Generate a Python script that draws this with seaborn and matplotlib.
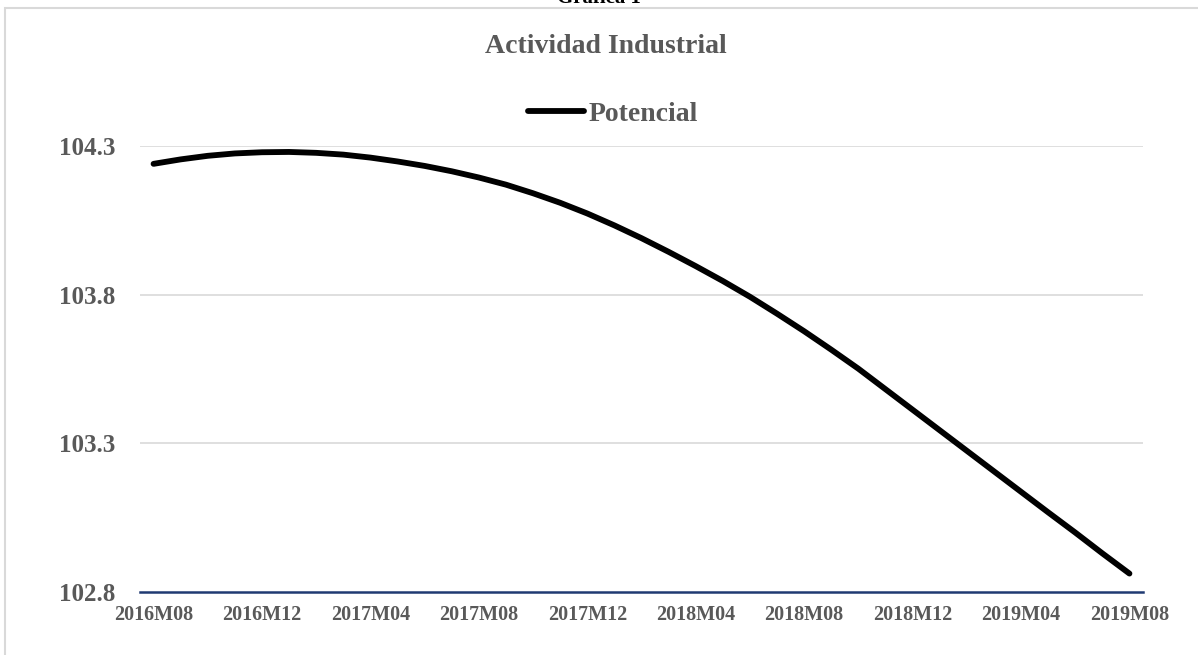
import matplotlib
matplotlib.use("Agg")
import matplotlib.pyplot as plt
import seaborn as sns
import pandas as pd
from matplotlib.patches import Rectangle

months = ["2016M08", "2016M09", "2016M10", "2016M11", "2016M12", "2017M01", "2017M02",
          "2017M03", "2017M04", "2017M05", "2017M06", "2017M07", "2017M08", "2017M09",
          "2017M10", "2017M11", "2017M12", "2018M01", "2018M02", "2018M03", "2018M04",
          "2018M05", "2018M06", "2018M07", "2018M08", "2018M09", "2018M10", "2018M11",
          "2018M12", "2019M01", "2019M02", "2019M03", "2019M04", "2019M05", "2019M06",
          "2019M07", "2019M08"]
potencial = [104.240, 104.255, 104.267, 104.275, 104.279, 104.280, 104.277, 104.271,
             104.261, 104.248, 104.233, 104.215, 104.194, 104.170, 104.141, 104.109,
             104.073, 104.033, 103.990, 103.944, 103.896, 103.846, 103.793, 103.736,
             103.677, 103.615, 103.551, 103.482, 103.413, 103.344, 103.275, 103.206,
             103.137, 103.068, 103.000, 102.930, 102.862]
y_ticks = [102.8, 103.3, 103.8, 104.3]
series_name = "Potencial"
title = "Gráfica 1"
subtitle = "Actividad Industrial"

df = pd.DataFrame({"idx": range(len(months)), "valor": potencial, "serie": series_name})

sns.set_theme(style="white")
plt.rcParams["font.family"] = ["Liberation Serif", "DejaVu Serif"]
gray = "#595959"

fig = plt.figure(figsize=(11.98, 6.55), dpi=100)
W, H = 1198, 655
ax = fig.add_axes([140 / W, 1 - 592 / H, 1003 / W, (592 - 146) / H])

# chart border (light gray frame, partly outside the image)
fig.patches.append(Rectangle((5 / W, -0.05), 1.1, 1 - 8 / H + 0.05, transform=fig.transFigure,
                             fill=False, edgecolor="#D9D9D9", linewidth=1.5, zorder=0))

for yv in y_ticks[1:]:
    ax.axhline(yv, color="#D9D9D9", linewidth=1.2, zorder=0)

sns.lineplot(data=df, x="idx", y="valor", hue="serie", palette=["black"], ax=ax,
             linewidth=4.2, legend=False, solid_capstyle="round", zorder=3)

ax.set_xlim(-0.5, len(months) - 0.5)
ax.set_ylim(y_ticks[0], y_ticks[-1])
ax.set_yticks(y_ticks)
ax.set_yticklabels([f"{v:.1f}" for v in y_ticks])
xt = list(range(0, len(months), 4))
ax.set_xticks(xt)
ax.set_xticklabels([months[i] for i in xt])
ax.set_xlabel("")
ax.set_ylabel("")
for s in ["top", "right", "left"]:
    ax.spines[s].set_visible(False)
ax.spines["bottom"].set_color("#203A72")
ax.spines["bottom"].set_linewidth(1.8)
ax.tick_params(axis="y", length=0, pad=18, labelsize=18, labelcolor=gray)
ax.tick_params(axis="x", length=0, pad=9, labelsize=14.5, labelcolor=gray)
for lab in ax.get_xticklabels() + ax.get_yticklabels():
    lab.set_fontweight("bold")
ax.patch.set_alpha(0)

fig.text(599 / W, 1 - 3 / H, title, ha="center", va="baseline", fontsize=15,
         fontweight="bold", color="black")
fig.text(606 / W, 1 - 53 / H, subtitle, ha="center", va="baseline", fontsize=20,
         fontweight="bold", color=gray)

from matplotlib.lines import Line2D
handle = Line2D([0], [0], color="black", linewidth=4.2, solid_capstyle="round")
leg = fig.legend([handle], [series_name], loc="center", bbox_to_anchor=(613 / W, 1 - 114 / H),
                 frameon=False, handlelength=2.0, handletextpad=0.15,
                 prop={"size": 20, "weight": "bold"})
for t in leg.get_texts():
    t.set_color(gray)

fig.savefig("out.png", dpi=100)
